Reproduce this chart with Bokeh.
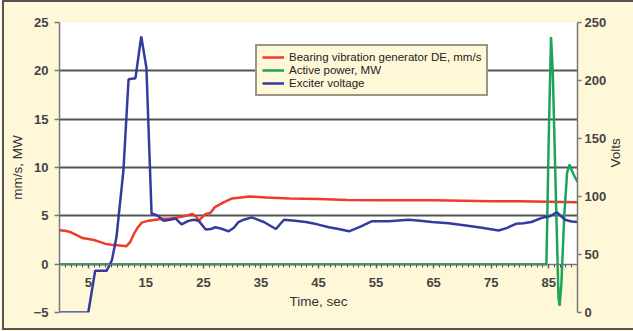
import math
from bokeh.plotting import figure
from bokeh.models import (Range1d, LinearAxis, FixedTicker, Legend, LegendItem, BoxAnnotation,
                          InlineStyleSheet)
from bokeh.embed import file_html
from bokeh.resources import INLINE

# ---- data ----
red_t = [0, 1, 2, 3, 4, 5, 6, 7, 8, 9, 10, 11, 11.6, 12.3, 12.9, 13.6, 14.3, 15.5, 16.7, 18,
         19, 20.2, 21.2, 22, 23, 23.6, 24.2, 25.4, 26.2, 27, 28.5, 30, 31.5, 33, 36, 40, 45, 50,
         55, 60, 65, 70, 75, 80, 85, 90]
red_v = [3.5, 3.45, 3.3, 3.0, 2.7, 2.6, 2.5, 2.3, 2.1, 2.0, 1.95, 1.9, 1.85, 2.3, 3.1, 3.8, 4.3,
         4.5, 4.6, 4.7, 4.7, 4.8, 4.9, 5.0, 5.2, 5.0, 4.5, 5.2, 5.3, 5.9, 6.4, 6.8, 6.9, 7.0, 6.9,
         6.8, 6.75, 6.65, 6.6, 6.6, 6.6, 6.55, 6.5, 6.5, 6.45, 6.4]

green_t = [0, 84.6, 85.0, 85.4, 85.7, 86.2, 86.7, 86.9, 87.2, 87.7, 88.2, 88.6, 89.3, 90.0]
green_v = [0, 0, 13, 23.5, 20, 8, -3.5, -4.3, -2, 5, 9.5, 10.3, 9.3, 8.5]

blue_t = [0, 5.0, 6.2, 8.2, 9.1, 9.9, 11.1, 12.0, 13.2, 14.2, 15.1, 16.0, 16.3, 17.2, 18.1, 19.2,
          20.2, 21.2, 22.4, 23.3, 24.2, 25.4, 26.3, 27.1, 28.3, 29.4, 30.3, 31.1, 32.0, 33.4,
          35.5, 37.6, 39.0, 40.9, 42.8, 44.8, 46.8, 48.5, 50.3, 52.3, 54.3, 57.2, 60.7, 62.7,
          64.7, 67.6, 70.6, 73.4, 76.3, 77.8, 79.3, 80.6, 82.0, 83.8, 85.2, 86.4, 87.8, 89.0, 90.0]
blue_v = [0, 0, 36, 36, 45, 65, 122, 201, 202, 238, 211, 85, 85, 83, 79, 80, 81, 76, 79, 80,
          79, 71.5, 72, 73.5, 72, 70, 73, 78, 80, 82, 78, 72, 80, 79, 78, 76, 73.5, 72, 70, 74,
          78.7, 78.7, 80, 79, 78, 77, 75, 73, 70.7, 73, 76.5, 77, 78, 81.6, 83, 86.4, 80, 78.5, 78]

x_ticks = [5, 15, 25, 35, 45, 55, 65, 75, 85]
x_minor = list(range(0, 91))
left_ticks = [-5, 0, 5, 10, 15, 20, 25]
right_ticks = [0, 50, 100, 150, 200, 250]
grid_ticks = [5, 10, 15, 20]

labels = ["Bearing vibration generator DE, mm/s", "Active power, MW", "Exciter voltage"]
colors = ["#EE3B2A", "#1AA55A", "#333C9E"]
x_title = "Time, sec"
left_title = "mm/s, MW"
right_title = "Volts"

CREAM = "#FFF8D8"
FONT = "Liberation Sans"

p = figure(width=633, height=331, output_backend="svg", toolbar_location=None,
           x_range=Range1d(0, 90), y_range=Range1d(-5, 25),
           min_border_left=59, min_border_right=55, min_border_top=22, min_border_bottom=19)
p.extra_y_ranges = {"volts": Range1d(0, 250)}

p.background_fill_color = "white"
p.border_fill_color = CREAM
p.outline_line_color = None
p.stylesheets = [InlineStyleSheet(css=(
    ":host { position: relative; }"
    ":host::after { content: ''; position: absolute; left: 2px; top: 0px; right: -4px; bottom: 1px;"
    " border: 2px solid #555; pointer-events: none; z-index: 100; }"))]

p.add_layout(BoxAnnotation(top=0, fill_color=CREAM, fill_alpha=1, line_alpha=0, level="underlay"))

p.xgrid.visible = False
p.ygrid.ticker = FixedTicker(ticks=grid_ticks)
p.ygrid.grid_line_color = "#555555"
p.ygrid.grid_line_width = 2

def style_axis(ax):
    ax.axis_line_color = "#777777"
    ax.axis_line_width = 1.5
    ax.major_tick_line_color = "#777777"
    ax.major_tick_line_width = 1.5
    ax.minor_tick_line_color = None
    ax.major_tick_in = 0
    ax.major_tick_out = 5
    ax.major_label_text_font = FONT
    ax.major_label_text_font_style = "bold"
    ax.major_label_text_font_size = "13px"
    ax.major_label_text_color = "#444444"
    ax.axis_label_text_font = FONT
    ax.axis_label_text_font_style = "normal"
    ax.axis_label_text_font_size = "13.5px"
    ax.axis_label_text_color = "#333333"

# x axis at y = 0
xa = p.xaxis[0]
xa.ticker = FixedTicker(ticks=x_ticks, minor_ticks=x_minor)
style_axis(xa)
xa.fixed_location = 0
xa.major_tick_out = 4
xa.minor_tick_line_color = "#555555"
xa.minor_tick_out = 3
xa.minor_tick_in = 0
xa.major_label_standoff = 10
xa.axis_label = x_title
xa.axis_label_standoff = 3

ya = p.yaxis[0]
ya.ticker = FixedTicker(ticks=left_ticks)
style_axis(ya)
ya.major_label_standoff = 6
ya.axis_label = left_title
ya.axis_label_standoff = 6

ra = LinearAxis(y_range_name="volts", ticker=FixedTicker(ticks=right_ticks), axis_label=right_title)
style_axis(ra)
ra.major_tick_out = 4
ra.major_label_standoff = 3
ra.axis_label_standoff = 6
ra.axis_label_orientation = math.pi / 2
p.add_layout(ra, "right")

r_red = p.line(red_t, red_v, line_color=colors[0], line_width=2.5)
r_green = p.line(green_t, green_v, line_color=colors[1], line_width=2.5)
r_blue = p.line(blue_t, blue_v, line_color=colors[2], line_width=2.5, y_range_name="volts")

legend = Legend(items=[LegendItem(label=labels[0], renderers=[r_red]),
                       LegendItem(label=labels[1], renderers=[r_green]),
                       LegendItem(label=labels[2], renderers=[r_blue])],
                location=(196, 216))
legend.background_fill_color = CREAM
legend.background_fill_alpha = 1
legend.border_line_color = "#333333"
legend.border_line_width = 2
legend.label_text_font = FONT
legend.label_text_font_size = "11.5px"
legend.label_text_color = "#222222"
legend.padding = 5
legend.spacing = 1
legend.label_height = 12
legend.glyph_height = 12
legend.glyph_width = 22
legend.label_standoff = 5
legend.margin = 0
p.add_layout(legend, "center")

open("out.html", "w").write(file_html(p, INLINE))
